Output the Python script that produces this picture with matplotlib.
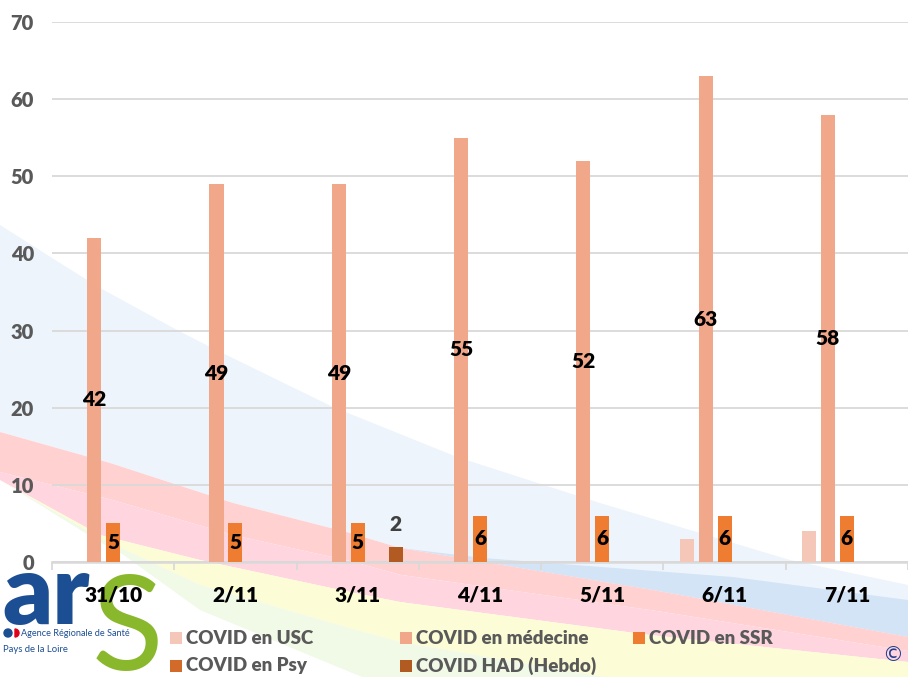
import numpy as np
import matplotlib.pyplot as plt
from matplotlib.patches import Rectangle, Circle, Wedge

plt.rcParams['font.family'] = ['Lato', 'DejaVu Sans']

# donnees
dates = ['31/10', '2/11', '3/11', '4/11', '5/11', '6/11', '7/11']
usc = [0, 0, 0, 0, 0, 3, 4]
medecine = [42, 49, 49, 55, 52, 63, 58]
ssr = [5, 5, 5, 6, 6, 6, 6]
psy = [0, 0, 0, 0, 0, 0, 0]
had = [0, 0, 2, 0, 0, 0, 0]

noms = ['COVID en USC', 'COVID en médecine', 'COVID en SSR', 'COVID en Psy', 'COVID HAD (Hebdo)']
valeurs = [usc, medecine, ssr, psy, had]
couleurs = ['#F5C7B9', '#F1A88A', '#EE7D32', '#D26A29', '#B15B22']
etiquettes = [None, 'center', 'center', None, 'edge']

W, H = 908, 677
fig = plt.figure(figsize=(W / 100, H / 100), dpi=100)

# ---- fond decoratif (bandes colorees du logo), coordonnees en pixels ----
bg = fig.add_axes([0, 0, 1, 1], zorder=0)
bg.set_xlim(0, W)
bg.set_ylim(H, 0)
bg.axis('off')

xx = np.linspace(0, W, 300)
def courbe(px, py):
    return np.interp(xx, px, py)

blue_top = courbe([0, 60, 100, 177, 210, 333, 457, 600, 790, 908],
                  [225, 263, 288, 330, 347, 407, 457, 503, 560, 585])
pink_top = courbe([0, 110, 233, 350, 400, 653, 908], [432, 463, 503, 533, 548, 590, 637])
blue2_top = courbe([0, 400, 483, 733, 908], [548, 548, 558, 577, 600])
blue2_top = np.minimum(blue2_top, pink_top)
pink_mid = pink_top + courbe([0, 350, 908], [40, 28, 14])
pink_bot = courbe([0, 100, 200, 350, 400, 650, 908], [480, 535, 560, 592, 602, 635, 662])
yel_bot = pink_bot + courbe([0, 100, 200, 400, 908], [0, 3, 25, 40, 60])
grn_bot = yel_bot + courbe([0, 120, 200, 400, 908], [0, 5, 25, 50, 60])

bg.fill_between(xx, blue_top, pink_top, color='#EEF4FB', lw=0)
bg.fill_between(xx, blue2_top, pink_top, color='#D3E4F6', lw=0)
bg.fill_between(xx, pink_top, pink_mid, color='#FFD1D1', lw=0)
bg.fill_between(xx, pink_mid, pink_bot, color='#FFD5DF', lw=0)
bg.fill_between(xx, pink_bot, yel_bot, color='#FCFDD6', lw=0)
bg.fill_between(xx, yel_bot, grn_bot, color='#F1F9E7', lw=0)

# logo ARS
bg.text(2, 624, 'ar', color='#1C4E94', fontsize=70, fontweight='heavy',
        va='baseline', ha='left')
bg.text(92, 670, 'S', color='#8AB82C', fontsize=95, fontweight='normal',
        va='baseline', ha='left')
bg.add_patch(Circle((8, 633), 4, color='#1C4E94'))
bg.add_patch(Wedge((15, 633), 4, -90, 90, color='#E2001A'))
bg.text(21, 633, 'Agence Régionale de Santé', color='#1C4E94', fontsize=6.6,
        va='center', ha='left')
bg.text(3, 649, 'Pays de la Loire', color='#1C4E94', fontsize=6.8,
        va='center', ha='left')
bg.text(893, 655, '©', color='#1F3F8F', fontsize=15, ha='center', va='center',
        family=['DejaVu Sans'])

# legende manuelle
leg_pos = [(170, 638), (400, 638), (633, 638), (170, 666), (400, 666)]
for (lx, ly), nom, c in zip(leg_pos, noms, couleurs):
    bg.add_patch(Rectangle((lx, ly - 6), 12, 12, color=c, lw=0))
    bg.text(lx + 16, ly, nom, color='#595959', fontsize=13.5, fontweight='heavy',
            va='center', ha='left')

# ---- graphique ----
ax = fig.add_axes([52 / W, 1 - 562 / H, 1 - 52 / W, 540 / H], zorder=1)
ax.patch.set_alpha(0)

x = np.arange(len(dates))
pas = 0.155
larg = 0.115
for i, (vals, c, lab) in enumerate(zip(valeurs, couleurs, etiquettes)):
    barres = ax.bar(x + (i - 2) * pas, vals, larg, color=c, zorder=3)
    txt = [str(v) if v > 0 else '' for v in vals]
    if lab == 'center':
        ax.bar_label(barres, labels=txt, label_type='center', fontsize=15,
                     fontweight='heavy', color='black', zorder=4)
    elif lab == 'edge':
        ax.bar_label(barres, labels=txt, label_type='edge', padding=9, fontsize=15,
                     fontweight='heavy', color='#404040', zorder=4)

ax.set_xlim(-0.5, len(dates) - 0.5)
ax.set_ylim(0, 70)
ax.set_yticks(range(0, 71, 10))
ax.yaxis.grid(True, color='#D9D9D9', lw=1.3)
ax.set_axisbelow(True)
for s in ['left', 'top', 'right']:
    ax.spines[s].set_visible(False)
ax.spines['bottom'].set_color('#D9D9D9')
ax.spines['bottom'].set_linewidth(1.8)

ax.set_xticks(x)
ax.set_xticklabels(dates, fontsize=15, fontweight='heavy', color='black')
ax.set_xticks(np.arange(-0.5, len(dates)), minor=True)
ax.tick_params(axis='x', which='major', length=0, pad=17)
ax.tick_params(axis='x', which='minor', length=6, width=1.3, color='#D9D9D9')
ax.tick_params(axis='y', length=0, pad=13, labelsize=14.5, labelcolor='#595959')
for t in ax.get_yticklabels():
    t.set_fontweight('heavy')

fig.savefig('out.png', dpi=100, facecolor='white')
